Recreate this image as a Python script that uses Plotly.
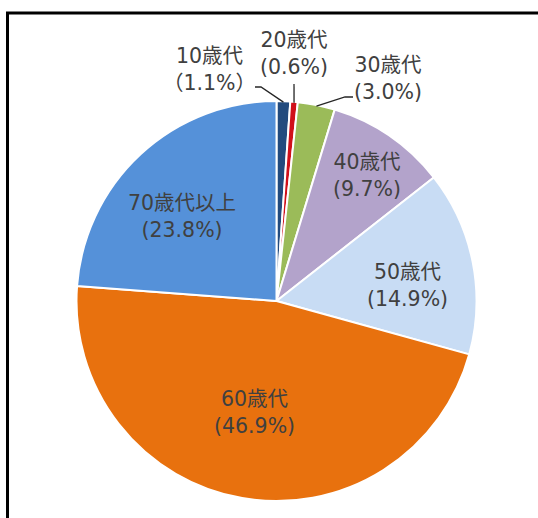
import math
import plotly.graph_objects as go

# ---- data ----
categories = ["10歳代", "20歳代", "30歳代", "40歳代", "50歳代", "60歳代", "70歳代以上"]
shares = [1.1, 0.6, 3.0, 9.7, 14.9, 46.9, 23.8]
pct_labels = ["（1.1%）", "(0.6%)", "(3.0%)", "(9.7%)", "(14.9%)", "(46.9%)", "(23.8%)"]
colors = ["#234B7E", "#D0101A", "#9BBB59", "#B3A3CB", "#C8DCF4", "#E8710E", "#5591D9"]

W, H = 538, 518
CX, CY, R = 276.5, 301, 200

def px(x):
    return x / W

def py(y):
    return 1 - y / H

fig = go.Figure()
fig.add_trace(go.Pie(
    labels=categories,
    values=shares,
    sort=False,
    direction="clockwise",
    rotation=0,
    marker=dict(colors=colors, line=dict(color="white", width=2)),
    textinfo="none",
    hoverinfo="label+percent",
    showlegend=False,
    domain=dict(x=[px(CX - R), px(CX + R)], y=[py(CY + R), py(CY - R)]),
))

# label block centres (page pixels)
label_pos = [(209, 70), (294, 53), (388, 78), (367, 175), (407, 285), (254, 412), (182, 216)]
annotations = []
for cat, pct, (lx, ly) in zip(categories, pct_labels, label_pos):
    annotations.append(dict(
        x=px(lx), y=py(ly), xref="paper", yref="paper",
        text=f"{cat}<br>{pct}", showarrow=False,
        xanchor="center", yanchor="middle", align="center",
        font=dict(family="DejaVu Sans, Noto Sans CJK JP", size=20.5, color="#404040"),
    ))

# leader lines from outside labels to slice edges (edge point computed from data)
total = sum(shares)
def edge_point(i):
    start = sum(shares[:i]) / total
    mid = start + shares[i] / total / 2
    th = 2 * math.pi * mid
    return CX + R * math.sin(th), CY - R * math.cos(th)

leader_starts = {0: [(255, 87), (261, 87)], 1: [(294, 84)], 2: [(353, 97), (345, 97)]}
shapes = []
for i, pts in leader_starts.items():
    ex, ey = edge_point(i)
    allpts = pts + [(ex, ey + 1)]
    path = "M " + " L ".join(f"{px(x)},{py(y)}" for x, y in allpts)
    shapes.append(dict(type="path", path=path, xref="paper", yref="paper",
                       line=dict(color="#262626", width=1.3)))

# outer frame (left and top edges visible)
shapes.append(dict(type="rect", xref="paper", yref="paper",
                   x0=px(7.5), x1=px(W + 20), y0=py(H + 20), y1=py(13),
                   line=dict(color="black", width=3)))

fig.update_layout(
    width=W, height=H,
    margin=dict(l=0, r=0, t=0, b=0),
    paper_bgcolor="white", plot_bgcolor="white",
    annotations=annotations, shapes=shapes,
)

fig.write_html("out.html")
